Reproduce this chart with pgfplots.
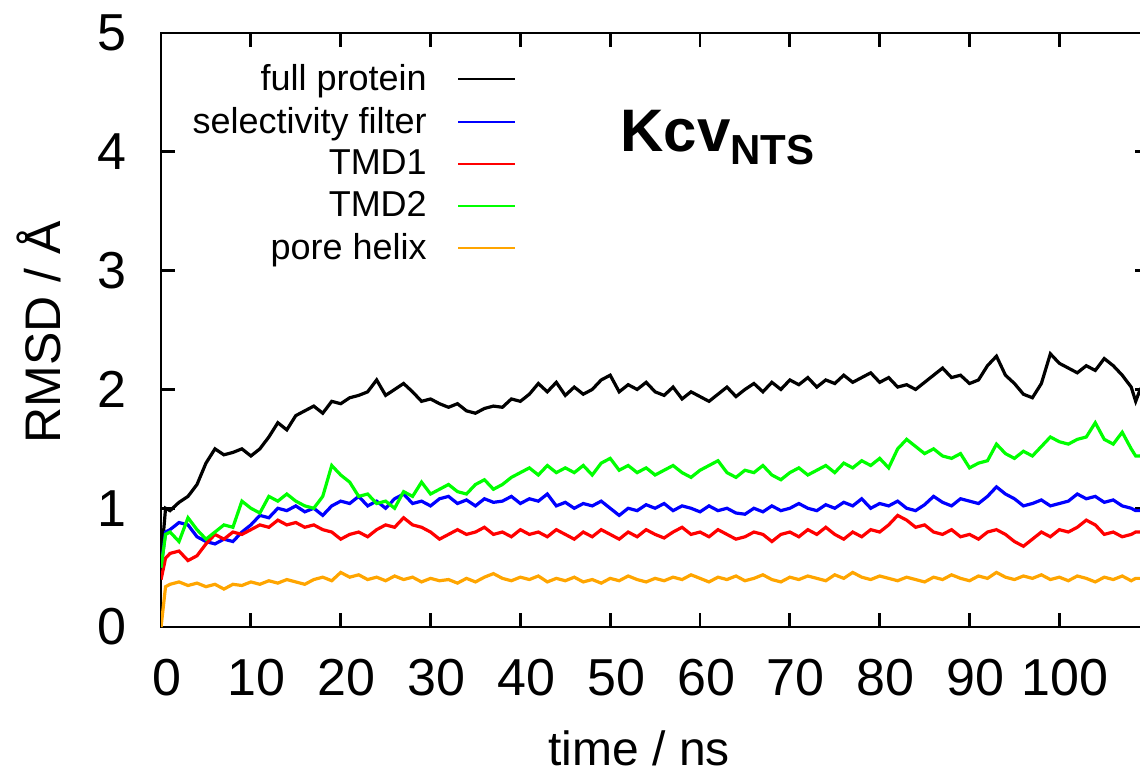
\documentclass[border=0pt]{standalone}
\usepackage{pgfplots}
\usepackage{pgfplotstable}
\pgfplotsset{compat=1.18}
\usepackage{fontspec}
\setmainfont{Liberation Sans}

\definecolor{gpblue}{RGB}{0,0,255}
\definecolor{gpred}{RGB}{255,0,0}
\definecolor{gpgreen}{RGB}{0,255,0}
\definecolor{gporange}{RGB}{255,165,0}

% RMSD traces (ns, Angstrom)
\pgfplotstableread{
t    full  sf    tmd1  tmd2  pore
0    0.55  0.50  0.40  0.50  0.00
0.5  1.00  0.80  0.58  0.78  0.34
1    0.98  0.82  0.62  0.80  0.36
2    1.05  0.88  0.64  0.72  0.38
3    1.10  0.86  0.56  0.92  0.35
4    1.20  0.76  0.60  0.82  0.37
5    1.38  0.72  0.70  0.74  0.34
6    1.50  0.70  0.78  0.80  0.36
7    1.45  0.74  0.74  0.86  0.32
8    1.47  0.72  0.80  0.84  0.36
9    1.50  0.80  0.78  1.06  0.35
10   1.44  0.86  0.82  1.00  0.38
11   1.50  0.94  0.86  0.96  0.36
12   1.60  0.92  0.84  1.10  0.39
13   1.72  1.00  0.90  1.06  0.37
14   1.66  0.98  0.86  1.12  0.40
15   1.78  1.02  0.88  1.06  0.38
16   1.82  0.97  0.84  1.02  0.36
17   1.86  1.00  0.86  1.00  0.40
18   1.80  0.94  0.82  1.10  0.42
19   1.90  1.02  0.80  1.36  0.39
20   1.88  1.06  0.74  1.28  0.46
21   1.93  1.04  0.78  1.22  0.42
22   1.95  1.10  0.80  1.10  0.44
23   1.98  1.02  0.76  1.12  0.40
24   2.08  1.06  0.82  1.04  0.42
25   1.95  1.00  0.86  1.06  0.39
26   2.00  1.08  0.84  1.00  0.43
27   2.05  1.12  0.92  1.14  0.40
28   1.98  1.04  0.86  1.10  0.42
29   1.90  1.06  0.84  1.22  0.38
30   1.92  1.02  0.80  1.12  0.41
31   1.88  1.08  0.74  1.16  0.39
32   1.85  1.10  0.78  1.20  0.40
33   1.88  1.04  0.82  1.14  0.37
34   1.82  1.07  0.78  1.12  0.41
35   1.80  1.02  0.80  1.20  0.38
36   1.84  1.08  0.84  1.24  0.42
37   1.86  1.05  0.78  1.16  0.45
38   1.85  1.06  0.80  1.20  0.41
39   1.92  1.10  0.76  1.26  0.39
40   1.90  1.04  0.82  1.30  0.42
41   1.96  1.08  0.78  1.34  0.40
42   2.05  1.06  0.80  1.28  0.43
43   1.98  1.12  0.76  1.36  0.38
44   2.06  1.02  0.82  1.30  0.41
45   1.95  1.05  0.78  1.34  0.39
46   2.02  1.00  0.74  1.30  0.42
47   1.96  1.04  0.80  1.36  0.38
48   2.00  1.02  0.76  1.28  0.40
49   2.08  1.06  0.82  1.38  0.37
50   2.12  1.00  0.78  1.42  0.41
51   1.98  0.94  0.74  1.32  0.39
52   2.04  1.00  0.80  1.36  0.43
53   2.00  0.98  0.76  1.30  0.40
54   2.06  1.03  0.82  1.34  0.38
55   1.98  1.00  0.78  1.28  0.41
56   1.95  1.04  0.75  1.32  0.39
57   2.02  0.98  0.80  1.36  0.42
58   1.92  1.02  0.84  1.30  0.40
59   1.98  1.00  0.78  1.26  0.44
60   1.94  0.97  0.80  1.32  0.41
61   1.90  1.02  0.76  1.36  0.38
62   1.96  0.98  0.82  1.40  0.42
63   2.02  1.00  0.78  1.30  0.40
64   1.94  0.96  0.74  1.26  0.43
65   2.00  0.95  0.76  1.32  0.39
66   2.05  1.00  0.80  1.30  0.41
67   1.98  0.97  0.78  1.36  0.44
68   2.06  1.02  0.72  1.28  0.40
69   2.00  0.98  0.78  1.24  0.38
70   2.08  1.00  0.80  1.30  0.42
71   2.04  1.04  0.76  1.34  0.40
72   2.10  1.00  0.82  1.28  0.43
73   2.02  0.98  0.78  1.32  0.41
74   2.08  1.03  0.84  1.36  0.39
75   2.05  1.00  0.78  1.30  0.44
76   2.12  1.05  0.74  1.38  0.41
77   2.06  1.02  0.80  1.34  0.46
78   2.10  1.08  0.76  1.40  0.42
79   2.14  1.00  0.82  1.36  0.40
80   2.06  1.04  0.80  1.42  0.43
81   2.10  1.02  0.86  1.34  0.41
82   2.02  1.06  0.94  1.50  0.39
83   2.04  1.00  0.90  1.58  0.42
84   2.00  0.98  0.84  1.52  0.40
85   2.06  1.03  0.86  1.46  0.38
86   2.12  1.10  0.80  1.50  0.42
87   2.18  1.05  0.78  1.44  0.40
88   2.10  1.02  0.82  1.42  0.44
89   2.12  1.08  0.76  1.46  0.41
90   2.05  1.06  0.78  1.34  0.39
91   2.08  1.04  0.74  1.38  0.43
92   2.20  1.10  0.80  1.40  0.41
93   2.28  1.18  0.82  1.54  0.46
94   2.12  1.12  0.78  1.46  0.42
95   2.05  1.08  0.72  1.42  0.40
96   1.96  1.02  0.68  1.48  0.43
97   1.93  1.04  0.74  1.44  0.41
98   2.05  1.07  0.80  1.52  0.44
99   2.30  1.02  0.76  1.60  0.40
100  2.22  1.04  0.82  1.56  0.42
101  2.18  1.06  0.80  1.54  0.39
102  2.14  1.12  0.84  1.58  0.43
103  2.20  1.08  0.90  1.60  0.41
104  2.16  1.10  0.86  1.72  0.38
105  2.26  1.05  0.78  1.58  0.42
106  2.20  1.07  0.80  1.54  0.40
107  2.12  1.02  0.76  1.64  0.43
108  2.02  1.00  0.78  1.50  0.39
108.5 1.90 0.98  0.80  1.44  0.41
109  2.00  0.98  0.80  1.44  0.41
110  1.98  1.00  0.78  1.50  0.40
}\rmsd

\begin{document}
\begin{tikzpicture}
\begin{axis}[
  scale only axis,
  width=494pt, height=297pt,
  xmin=0, xmax=110, ymin=0, ymax=5,
  xtick={0,10,...,100}, ytick={0,1,...,5},
  tick align=inside,
  major tick length=7pt,
  axis line style={line width=1.4pt},
  every tick/.style={black, line width=1.4pt},
  tick label style={font=\fontsize{26}{26}\selectfont},
  xticklabel style={anchor=base, inner sep=0pt, yshift=-34pt, xshift=3pt},
  yticklabel style={anchor=east, inner sep=0pt, xshift=-17pt},
  /pgf/number format/assume math mode=true,
  xlabel={time / ns}, ylabel={RMSD / Å},
  xlabel style={font=\fontsize{24}{24}\selectfont, inner sep=0pt,
    at={(axis description cs:0.4838,-0.2323)}, anchor=base},
  ylabel style={font=\fontsize{25}{25}\selectfont, inner sep=0pt,
    at={(axis description cs:-0.1022,0.4958)}, anchor=base},
  legend plot pos=right,
  legend cell align=right,
  legend style={draw=none, fill=none, inner sep=0pt,
    at={(axis cs:39.6,4.77)}, anchor=north east,
    font=\fontsize{18}{18}\selectfont, row sep=2.8pt},
  legend image code/.code={\path (0pt,0pt);\draw[#1, line width=1pt] (13pt,0pt) -- (41.5pt,0pt);},
  every axis plot/.append style={line width=1.6pt},
]
\addplot[black] table[x=t, y=full] {\rmsd};
\addlegendentry{full protein}
\addplot[gpblue] table[x=t, y=sf] {\rmsd};
\addlegendentry{selectivity filter}
\addplot[gpred] table[x=t, y=tmd1] {\rmsd};
\addlegendentry{TMD1}
\addplot[gpgreen] table[x=t, y=tmd2] {\rmsd};
\addlegendentry{TMD2}
\addplot[gporange] table[x=t, y=pore] {\rmsd};
\addlegendentry{pore helix}
\node[anchor=base west, inner sep=0pt] at (axis cs:51.1,4.0)
  {{\fontsize{30}{30}\selectfont\bfseries Kcv}\raisebox{-6.5pt}{\fontsize{21}{21}\selectfont\bfseries NTS}};
\coordinate (bbl) at (axis cs:-17.93,-1.246);
\coordinate (btr) at (axis cs:108.98,5.278);
\end{axis}
\pgfresetboundingbox
\path[use as bounding box] (bbl) rectangle (btr);
\end{tikzpicture}
\end{document}
